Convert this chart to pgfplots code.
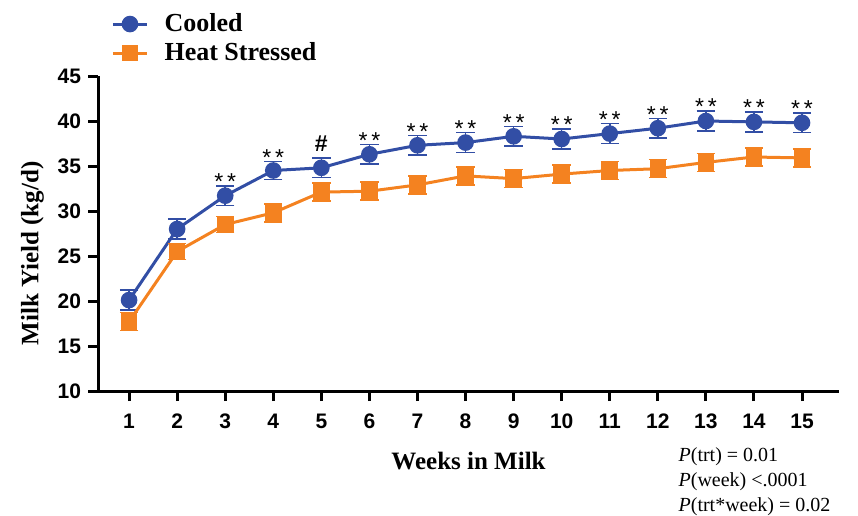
\documentclass[border=0pt]{standalone}
\usepackage{fontspec}
\setmainfont{Liberation Serif}
\newfontfamily\arial{Liberation Sans}
\usepackage{pgfplots}
\usepackage{pgfplotstable}
\pgfplotsset{compat=1.18}
\definecolor{cblue}{RGB}{50,78,165}
\definecolor{corange}{RGB}{244,130,32}

\pgfplotstableread{
week cooled ce heat he
1 20.1 1.1 17.7 1.0
2 28.0 1.1 25.5 0.9
3 31.7 1.1 28.5 0.9
4 34.5 1.0 29.8 1.0
5 34.8 1.1 32.1 1.0
6 36.3 1.1 32.2 1.0
7 37.3 1.1 32.9 1.0
8 37.6 1.1 33.9 1.0
9 38.3 1.1 33.6 1.0
10 38.0 1.1 34.1 1.0
11 38.6 1.1 34.5 1.0
12 39.2 1.1 34.7 1.0
13 40.0 1.1 35.4 1.0
14 39.9 1.1 36.0 1.0
15 39.8 1.1 35.9 1.0
}\datatable

\tikzset{stars/.style={font=\arial\fontsize{11.5}{13}\selectfont, anchor=base, inner sep=0pt, yshift=-1.9pt}}

\begin{document}
\begin{tikzpicture}
\begin{axis}[
 scale only axis, width=370.5pt, height=157.5pt,
 xmin=0.354, xmax=15.77, ymin=10, ymax=45,
 xtick={1,...,15}, ytick={10,15,...,45},
 axis x line*=bottom, axis y line*=left,
 axis line style={line width=1.5pt, -},
 tick align=outside, major tick length=5pt,
 tick style={line width=1.5pt, black},
 ticklabel style={font=\arial\bfseries\fontsize{10.5}{12}\selectfont},
 xticklabel style={yshift=-3pt},
 /pgf/number format/assume math mode=true,
 xlabel={Weeks in Milk}, ylabel={Milk Yield (kg/d)},
 label style={font=\bfseries\fontsize{12.5}{15}\selectfont},
 xlabel style={yshift=-4.5pt},
 ylabel style={at={(ticklabel cs:0.437)}},
 legend style={at={(rel axis cs:0.0094,1.225)}, anchor=north west, draw=none, fill=none,
   font=\bfseries\fontsize{13}{15}\selectfont,
   /tikz/every odd column/.append style={column sep=6pt}},
 legend cell align=left,
 clip=false,
]
\addplot[cblue, line width=1.5pt, mark=*, mark size=3.4pt, mark options={solid, fill=cblue},
  error bars/.cd, y dir=both, y explicit,
  error bar style={line width=0.75pt, cblue},
  error mark options={rotate=90, mark size=4.6pt, line width=0.75pt, cblue}]
  table[x=week, y=cooled, y error=ce] {\datatable};
\addlegendentry{Cooled}
\addplot[corange, line width=1.5pt, mark=square*, mark size=3.4pt, mark options={solid, fill=corange},
  error bars/.cd, y dir=both, y explicit,
  error bar style={line width=0.75pt, corange},
  error mark options={rotate=90, mark size=4.6pt, line width=0.75pt, corange}]
  table[x=week, y=heat, y error=he] {\datatable};
\addlegendentry{Heat Stressed}

\node[stars] at (axis cs:3,32.8) {*\,*};
\node[stars] at (axis cs:4,35.5) {*\,*};
\node[stars] at (axis cs:6,37.4) {*\,*};
\node[stars] at (axis cs:7,38.4) {*\,*};
\node[stars] at (axis cs:8,38.7) {*\,*};
\node[stars] at (axis cs:9,39.4) {*\,*};
\node[stars] at (axis cs:10,39.1) {*\,*};
\node[stars] at (axis cs:11,39.7) {*\,*};
\node[stars] at (axis cs:12,40.3) {*\,*};
\node[stars] at (axis cs:13,41.1) {*\,*};
\node[stars] at (axis cs:14,41.0) {*\,*};
\node[stars] at (axis cs:15,40.9) {*\,*};
\node[font=\arial\bfseries\fontsize{11.5}{13}\selectfont, anchor=base, inner sep=0pt, yshift=3pt] at (axis cs:5,35.9) {\#};

\node[anchor=north west, align=left, inner sep=0pt, font=\fontsize{10}{12.5}\selectfont]
  at (rel axis cs:0.783,-0.178) {\textit{P}(trt) = 0.01\\ \textit{P}(week) <.0001\\ \textit{P}(trt*week) = 0.02};

\coordinate (bbsw) at (rel axis cs:-0.1323,-0.3937);
\coordinate (bbne) at (rel axis cs:1.0256,1.2413);
\end{axis}
\pgfresetboundingbox
\path (bbsw) rectangle (bbne);
\end{tikzpicture}
\end{document}
